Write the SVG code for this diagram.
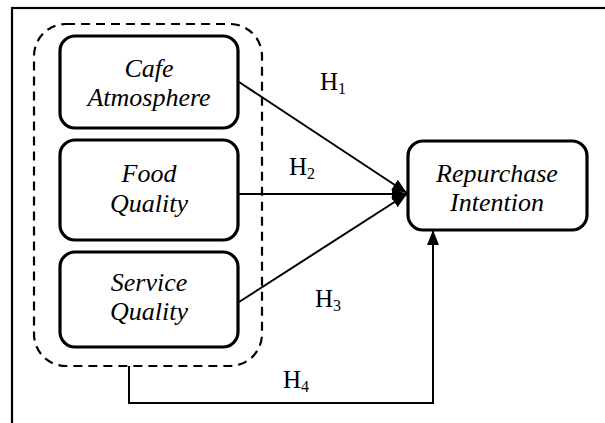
<svg xmlns="http://www.w3.org/2000/svg" width="605" height="423" viewBox="0 0 605 423">
<defs>
<style>
.node rect{fill:#fff;stroke:#000;stroke-width:3.2}
.lbl{font-family:"Liberation Serif","Times New Roman",serif;font-style:italic;font-size:26px;text-anchor:middle;fill:#000}
.h{font-family:"Liberation Serif","Times New Roman",serif;font-size:25px;fill:#000}
.h tspan.s{font-size:16px}
.conn{fill:none;stroke:#000;stroke-width:2}
</style>
<marker id="ah" markerUnits="userSpaceOnUse" markerWidth="16" markerHeight="14" viewBox="0 0 16 14" refX="15" refY="7" orient="auto">
<path d="M0,1 L15,7 L0,13 Z" fill="#000"/>
</marker>
</defs>
<rect width="605" height="423" fill="#fff"/>
<rect x="12" y="8" width="620" height="440" fill="none" stroke="#000" stroke-width="2.2"/>
<g id="group">
<rect x="34" y="24" width="228" height="342" rx="32" fill="none" stroke="#000" stroke-width="2.2" stroke-dasharray="9,6"/>
</g>
<g id="connectors">
<line class="conn" x1="239" y1="82" x2="407" y2="193" marker-end="url(#ah)"/>
<line class="conn" x1="239" y1="194" x2="407" y2="194" marker-end="url(#ah)"/>
<line class="conn" x1="239" y1="302" x2="407" y2="194" marker-end="url(#ah)"/>
<polyline class="conn" points="129,366 129,403 433,403 433,230" marker-end="url(#ah)"/>
<text class="h" x="320" y="90">H<tspan class="s" dy="4">1</tspan></text>
<text class="h" x="289" y="175">H<tspan class="s" dy="4">2</tspan></text>
<text class="h" x="315" y="307">H<tspan class="s" dy="4">3</tspan></text>
<text class="h" x="283" y="388">H<tspan class="s" dy="4">4</tspan></text>
</g>
<g id="cafe" class="node">
<rect x="60" y="36" width="178" height="92" rx="15"/>
<text class="lbl" x="149" y="77">Cafe</text>
<text class="lbl" x="149" y="106">Atmosphere</text>
</g>
<g id="food" class="node">
<rect x="60" y="140" width="178" height="100" rx="15"/>
<text class="lbl" x="149" y="182">Food</text>
<text class="lbl" x="149" y="212">Quality</text>
</g>
<g id="service" class="node">
<rect x="60" y="252" width="178" height="95" rx="15"/>
<text class="lbl" x="149" y="291">Service</text>
<text class="lbl" x="149" y="320">Quality</text>
</g>
<g id="repurchase" class="node">
<rect x="408" y="141" width="179" height="89" rx="15"/>
<text class="lbl" x="497" y="182">Repurchase</text>
<text class="lbl" x="497" y="211">Intention</text>
</g>
</svg>
